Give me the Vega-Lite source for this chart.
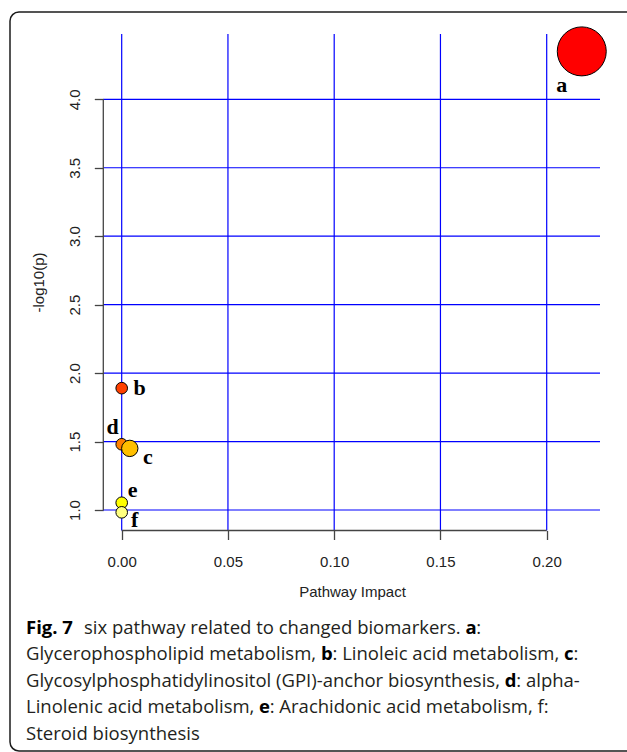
{
  "$schema": "https://vega.github.io/schema/vega-lite/v6.json",
  "autosize": {"type": "none"},
  "padding": {"left": 10, "top": 12, "right": 0, "bottom": 1},
  "width": 630,
  "height": 739,
  "background": "white",
  "config": {
    "view": {"stroke": "#1c1c1c", "strokeWidth": 1.5, "cornerRadius": 9},
    "text": {"font": "Open Sans", "fontSize": 18.5, "align": "left", "baseline": "alphabetic", "color": "#231f20"},
    "axisX": {
      "offset": -220.5, "domain": false, "grid": false, "ticks": true, "tickSize": 9, "tickColor": "#444444", "tickWidth": 1.3,
      "labelFont": "Liberation Sans", "labelFontSize": 15, "labelColor": "#222222", "labelBaseline": "top", "labelPadding": 15, "labelFlush": false, "labelOverlap": false,
      "titleFont": "Liberation Sans", "titleFontSize": 15, "titleFontWeight": "normal", "titleColor": "#222222", "titleX": 342, "titleY": 61, "titleBaseline": "middle", "titleAlign": "center"
    },
    "axisY": {
      "offset": -93.3, "domain": false, "grid": false, "ticks": true, "tickSize": 9, "tickColor": "#444444", "tickWidth": 1.3,
      "labelFont": "Liberation Sans", "labelFontSize": 15, "labelColor": "#222222", "labelAngle": -90, "labelAlign": "center", "labelBaseline": "bottom", "labelPadding": 12, "labelFlush": false, "labelOverlap": false,
      "titleFont": "Liberation Sans", "titleFontSize": 15, "titleFontWeight": "normal", "titleColor": "#222222", "titleX": -65, "titleY": 270, "titleBaseline": "middle", "titleAlign": "center", "titleAngle": -90
    }
  },
  "datasets": {
    "pts": [
      {"id": "a", "impact": 0.2165, "logp": 4.35},
      {"id": "b", "impact": 0.0, "logp": 1.89},
      {"id": "d", "impact": 0.0, "logp": 1.48},
      {"id": "c", "impact": 0.0038, "logp": 1.45},
      {"id": "e", "impact": 0.0, "logp": 1.053},
      {"id": "f", "impact": 0.0, "logp": 0.983}
    ],
    "vgrid": [{"gx": 0}, {"gx": 0.05}, {"gx": 0.1}, {"gx": 0.15}, {"gx": 0.2}],
    "hgrid": [{"gy": 1.0}, {"gy": 1.5}, {"gy": 2.0}, {"gy": 2.5}, {"gy": 3.0}, {"gy": 3.5}, {"gy": 4.0}],
    "caption": [
      {"line": 1, "seg": "1a", "text": "Fig. 7"},
      {"line": 1, "seg": "1b", "text": "six pathway related to changed biomarkers."},
      {"line": 1, "seg": "1c", "text": "a"},
      {"line": 1, "seg": "1d", "text": ":"},
      {"line": 2, "seg": "2a", "text": "Glycerophospholipid metabolism,"},
      {"line": 2, "seg": "2b", "text": "b"},
      {"line": 2, "seg": "2c", "text": ": Linoleic acid metabolism,"},
      {"line": 2, "seg": "2d", "text": "c"},
      {"line": 2, "seg": "2e", "text": ":"},
      {"line": 3, "seg": "3a", "text": "Glycosylphosphatidylinositol (GPI)-anchor biosynthesis,"},
      {"line": 3, "seg": "3b", "text": "d"},
      {"line": 3, "seg": "3c", "text": ": alpha-"},
      {"line": 4, "seg": "4a", "text": "Linolenic acid metabolism,"},
      {"line": 4, "seg": "4b", "text": "e"},
      {"line": 4, "seg": "4c", "text": ": Arachidonic acid metabolism, f:"},
      {"line": 5, "seg": "5a", "text": "Steroid biosynthesis"}
    ]
  },
  "layer": [
    {
      "layer": [
        {
          "data": {"name": "vgrid"},
          "mark": {"type": "rule", "color": "#0000ff", "strokeWidth": 1.2},
          "encoding": {
            "x": {"field": "gx", "type": "quantitative", "scale": {"domain": [-0.052565, 0.243906], "nice": false, "zero": false}, "title": "Pathway Impact"},
            "y": {"datum": 0.8503, "type": "quantitative", "scale": {"domain": [-0.7604, 4.6377], "nice": false, "zero": false}},
            "y2": {"datum": 4.477}
          }
        },
        {
          "data": {"name": "hgrid"},
          "mark": {"type": "rule", "color": "#0000ff", "strokeWidth": 1.2},
          "encoding": {
            "y": {"field": "gy", "type": "quantitative", "scale": {"domain": [-0.7604, 4.6377], "nice": false, "zero": false}, "title": "-log10(p)"},
            "x": {"datum": -0.00866, "type": "quantitative", "scale": {"domain": [-0.052565, 0.243906], "nice": false, "zero": false}},
            "x2": {"datum": 0.22508}
          }
        },
        {
          "data": {"name": "pts"},
          "mark": {"type": "point", "shape": "circle", "filled": true, "opacity": 1, "stroke": "#000000", "strokeWidth": 1},
          "encoding": {
            "x": {"field": "impact", "type": "quantitative", "scale": {"domain": [-0.052565, 0.243906], "nice": false, "zero": false}, "title": "Pathway Impact",
                  "axis": {"values": [0, 0.05, 0.1, 0.15, 0.2], "format": ".2f"}},
            "y": {"field": "logp", "type": "quantitative", "scale": {"domain": [-0.7604, 4.6377], "nice": false, "zero": false}, "title": "-log10(p)",
                  "axis": {"values": [1, 1.5, 2, 2.5, 3, 3.5, 4], "format": ".1f"}},
            "size": {"field": "impact", "type": "quantitative", "scale": {"type": "pow", "exponent": 0.7, "domain": [0, 0.2165], "range": [135, 2400]}, "legend": null},
            "color": {"field": "id", "type": "nominal", "scale": {"domain": ["a", "b", "c", "d", "e", "f"], "range": ["#ff0000", "#ff4000", "#ffbf00", "#ff8000", "#ffff00", "#ffff80"]}, "legend": null}
          }
        },
        {
          "data": {"name": "pts"},
          "transform": [{"filter": "datum.id === 'a'"}],
          "mark": {"type": "text", "font": "Liberation Serif", "fontWeight": "bold", "fontSize": 22, "align": "center", "baseline": "middle", "dx": -20, "dy": 34, "color": "#000000"},
          "encoding": {"x": {"field": "impact", "type": "quantitative"}, "y": {"field": "logp", "type": "quantitative"}, "text": {"field": "id"}}
        },
        {
          "data": {"name": "pts"},
          "transform": [{"filter": "datum.id === 'b'"}],
          "mark": {"type": "text", "font": "Liberation Serif", "fontWeight": "bold", "fontSize": 22, "align": "center", "baseline": "middle", "dx": 18, "dy": 0, "color": "#000000"},
          "encoding": {"x": {"field": "impact", "type": "quantitative"}, "y": {"field": "logp", "type": "quantitative"}, "text": {"field": "id"}}
        },
        {
          "data": {"name": "pts"},
          "transform": [{"filter": "datum.id === 'c'"}],
          "mark": {"type": "text", "font": "Liberation Serif", "fontWeight": "bold", "fontSize": 22, "align": "center", "baseline": "middle", "dx": 18, "dy": 9, "color": "#000000"},
          "encoding": {"x": {"field": "impact", "type": "quantitative"}, "y": {"field": "logp", "type": "quantitative"}, "text": {"field": "id"}}
        },
        {
          "data": {"name": "pts"},
          "transform": [{"filter": "datum.id === 'd'"}],
          "mark": {"type": "text", "font": "Liberation Serif", "fontWeight": "bold", "fontSize": 22, "align": "center", "baseline": "middle", "dx": -9, "dy": -17, "color": "#000000"},
          "encoding": {"x": {"field": "impact", "type": "quantitative"}, "y": {"field": "logp", "type": "quantitative"}, "text": {"field": "id"}}
        },
        {
          "data": {"name": "pts"},
          "transform": [{"filter": "datum.id === 'e'"}],
          "mark": {"type": "text", "font": "Liberation Serif", "fontWeight": "bold", "fontSize": 22, "align": "center", "baseline": "middle", "dx": 11, "dy": -13, "color": "#000000"},
          "encoding": {"x": {"field": "impact", "type": "quantitative"}, "y": {"field": "logp", "type": "quantitative"}, "text": {"field": "id"}}
        },
        {
          "data": {"name": "pts"},
          "transform": [{"filter": "datum.id === 'f'"}],
          "mark": {"type": "text", "font": "Liberation Serif", "fontWeight": "bold", "fontSize": 22, "align": "center", "baseline": "middle", "dx": 13, "dy": 8, "color": "#000000"},
          "encoding": {"x": {"field": "impact", "type": "quantitative"}, "y": {"field": "logp", "type": "quantitative"}, "text": {"field": "id"}}
        },
        {
          "data": {"name": "hgrid"},
          "mark": {"type": "rule", "color": "#444444", "strokeWidth": 1.3},
          "encoding": {
            "x": {"datum": -0.00866, "type": "quantitative"},
            "y": {"aggregate": "min", "field": "gy", "type": "quantitative"},
            "y2": {"aggregate": "max", "field": "gy"}
          }
        },
        {
          "data": {"name": "vgrid"},
          "mark": {"type": "rule", "color": "#444444", "strokeWidth": 1.3},
          "encoding": {
            "y": {"datum": 0.8503, "type": "quantitative"},
            "x": {"aggregate": "min", "field": "gx", "type": "quantitative"},
            "x2": {"aggregate": "max", "field": "gx"}
          }
        }
      ]
    },
    {
      "data": {"name": "caption"},
      "encoding": {
        "x": {"datum": 0, "type": "quantitative", "scale": {"domain": [-16, 614], "nice": false, "zero": false}, "axis": null},
        "y": {"field": "line", "type": "quantitative", "scale": {"domain": [-22.47, 5.417], "reverse": true, "nice": false, "zero": false}, "axis": null},
        "text": {"field": "text"}
      },
      "layer": [
        {"transform": [{"filter": "datum.seg === '2a' || datum.seg === '3a' || datum.seg === '4a' || datum.seg === '5a'"}], "mark": {"type": "text"}},
        {"transform": [{"filter": "datum.seg === '1a'"}], "mark": {"type": "text", "fontWeight": "bold", "color": "#000000"}},
        {"transform": [{"filter": "datum.seg === '1b'"}], "mark": {"type": "text", "dx": 58}},
        {"transform": [{"filter": "datum.seg === '1c'"}], "mark": {"type": "text", "fontWeight": "bold", "color": "#000000", "dx": 439.6}},
        {"transform": [{"filter": "datum.seg === '1d'"}], "mark": {"type": "text", "dx": 450.3}},
        {"transform": [{"filter": "datum.seg === '2b'"}], "mark": {"type": "text", "fontWeight": "bold", "color": "#000000", "dx": 295.0}},
        {"transform": [{"filter": "datum.seg === '2c'"}], "mark": {"type": "text", "dx": 306.5}},
        {"transform": [{"filter": "datum.seg === '2d'"}], "mark": {"type": "text", "fontWeight": "bold", "color": "#000000", "dx": 537.9}},
        {"transform": [{"filter": "datum.seg === '2e'"}], "mark": {"type": "text", "dx": 547.4}},
        {"transform": [{"filter": "datum.seg === '3b'"}], "mark": {"type": "text", "fontWeight": "bold", "color": "#000000", "dx": 478.8}},
        {"transform": [{"filter": "datum.seg === '3c'"}], "mark": {"type": "text", "dx": 490.3}},
        {"transform": [{"filter": "datum.seg === '4b'"}], "mark": {"type": "text", "fontWeight": "bold", "color": "#000000", "dx": 233.1}},
        {"transform": [{"filter": "datum.seg === '4c'"}], "mark": {"type": "text", "dx": 243.7}}
      ]
    }
  ],
  "resolve": {"scale": {"x": "independent", "y": "independent"}, "axis": {"x": "independent", "y": "independent"}}
}
